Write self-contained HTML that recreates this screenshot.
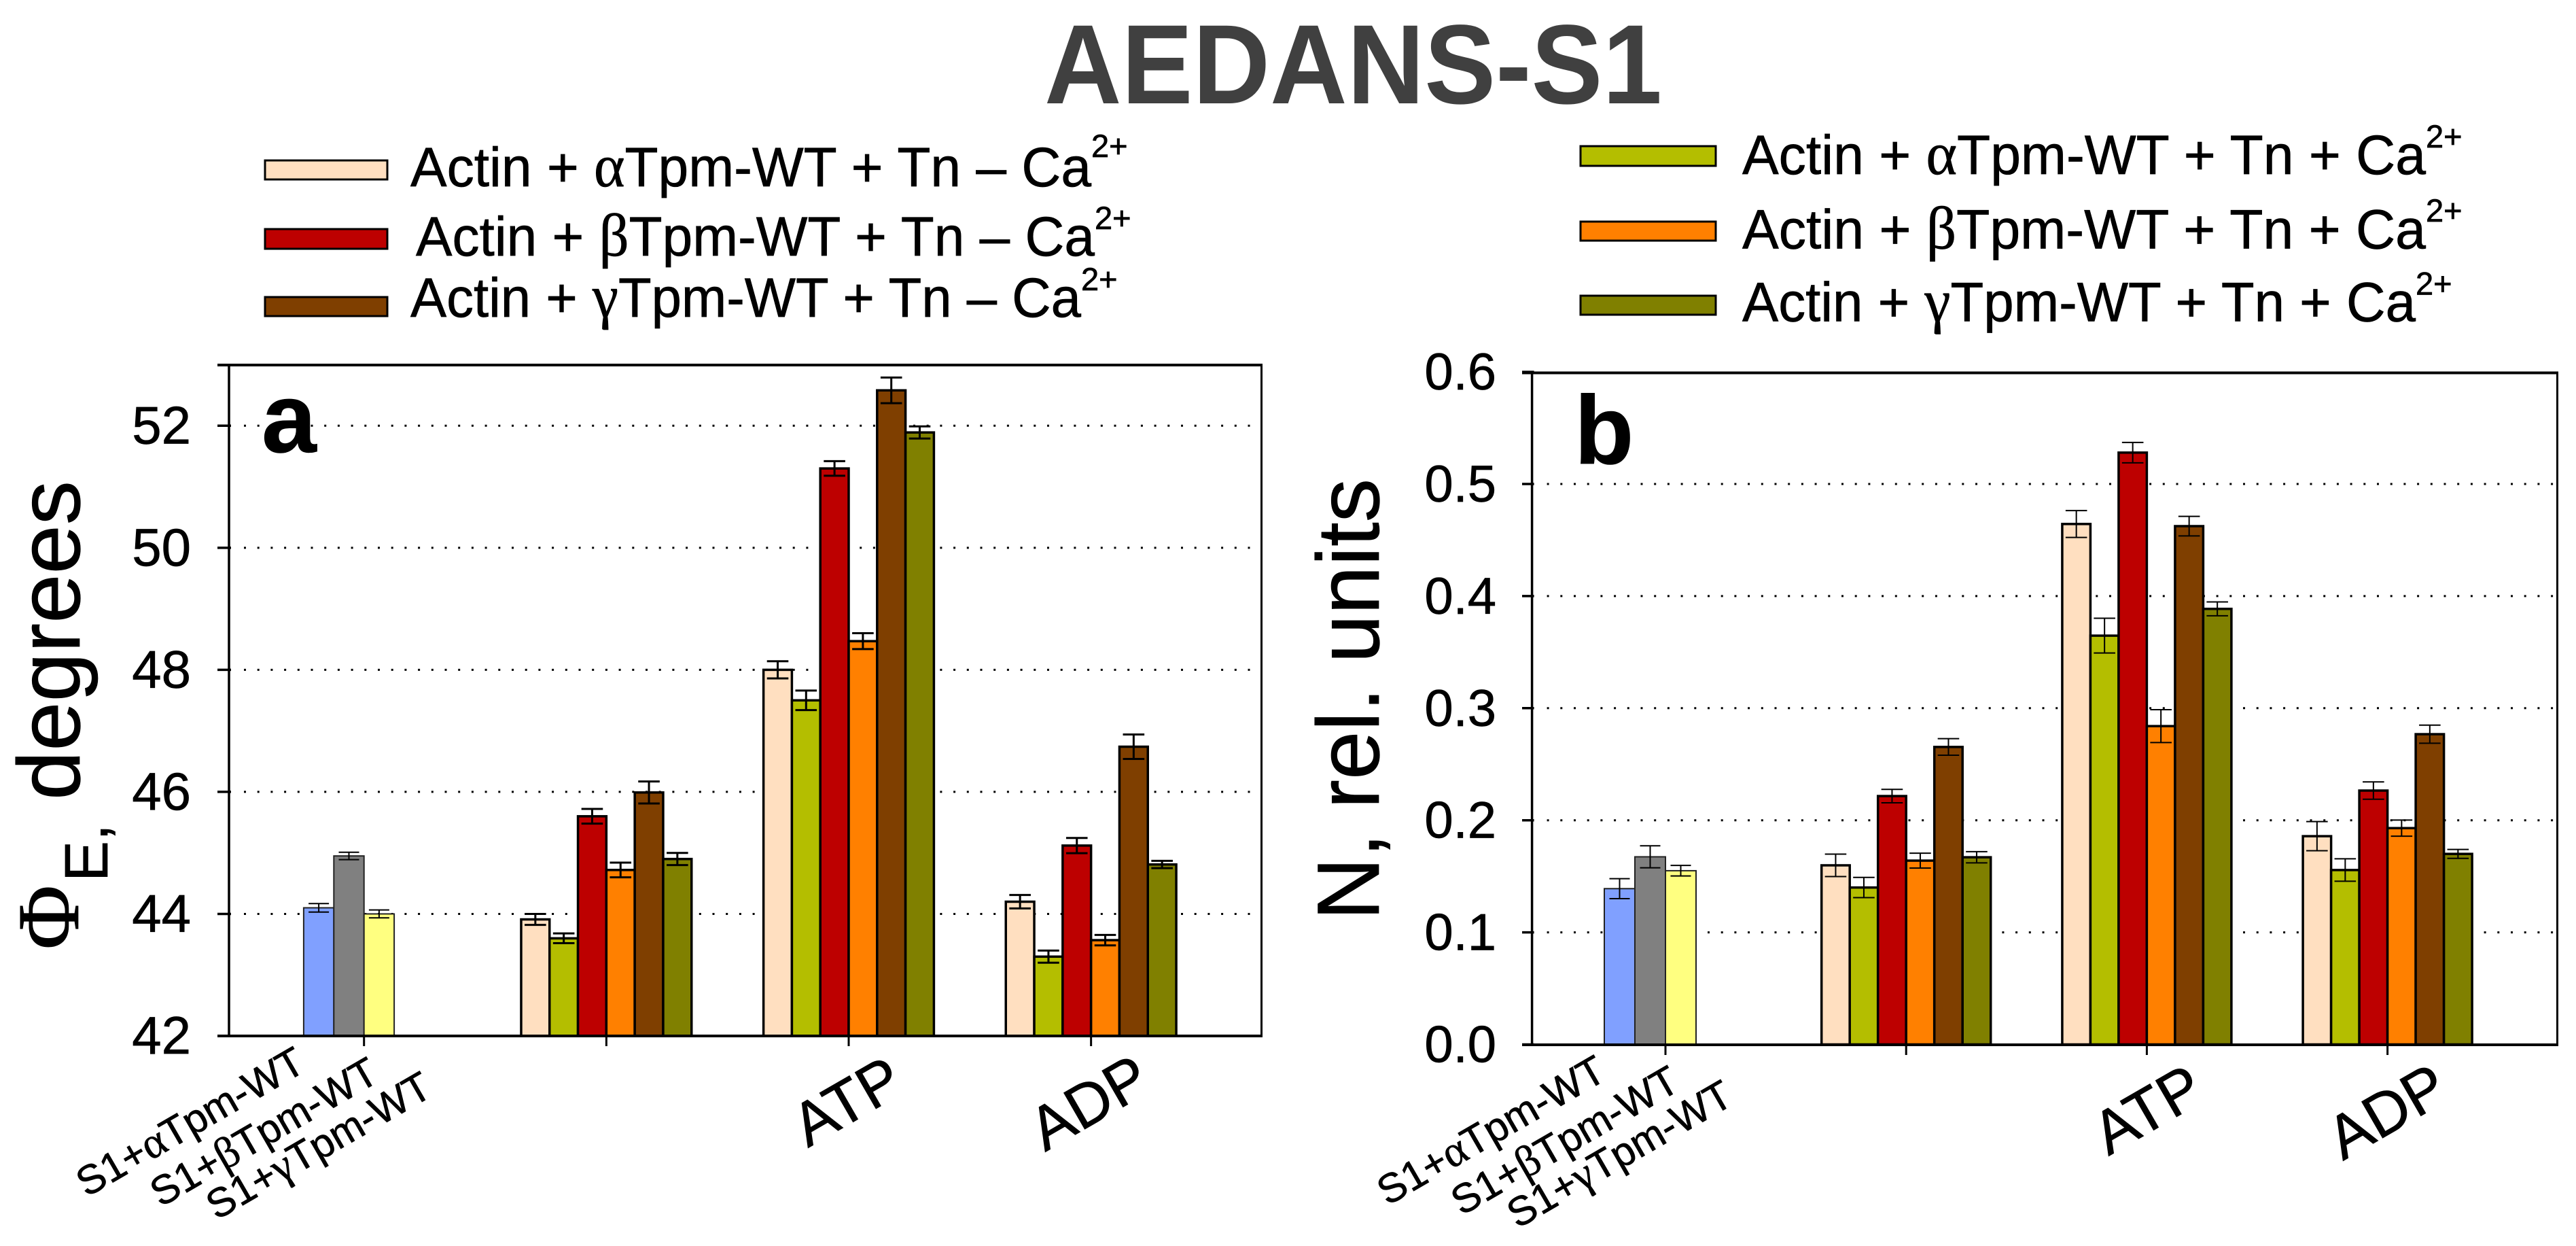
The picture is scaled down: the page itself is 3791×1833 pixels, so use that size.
<!DOCTYPE html>
<html lang="en">
<head>
<meta charset="utf-8">
<title>AEDANS-S1</title>
<style>
html,body{margin:0;padding:0;background:#fff;}
svg{display:block;}
text{font-family:"Liberation Sans",sans-serif;fill:#000;stroke:#000;stroke-width:0.7px;}
.gk{font-family:"Liberation Serif",serif;font-size:1.08em;}
.lg{font-size:82px;}
.sp{font-size:47px;}
.tl{font-size:60px;}
.cat{font-size:90px;}
</style>
</head>
<body>
<svg id="fig" xmlns="http://www.w3.org/2000/svg" width="3791" height="1833" viewBox="0 0 3791 1833">
  <rect x="0" y="0" width="3791" height="1833" fill="#fff"/>
  <text x="1537" y="152" font-size="166" font-weight="bold" style="fill:#404040;stroke:none" textLength="909" lengthAdjust="spacingAndGlyphs">AEDANS-S1</text>

  <g>
    <rect x="390" y="236" width="180" height="28" fill="#FFDFC0" stroke="#000" stroke-width="3"/>
    <text class="lg" x="604" y="274" textLength="1002" lengthAdjust="spacingAndGlyphs">Actin + <tspan class="gk">α</tspan>Tpm-WT + Tn – Ca</text>
    <text class="sp" x="1606" y="231">2+</text>
    <rect x="390" y="337" width="180" height="29" fill="#BD0000" stroke="#000" stroke-width="3"/>
    <text class="lg" x="612" y="376" textLength="999" lengthAdjust="spacingAndGlyphs">Actin + <tspan class="gk">β</tspan>Tpm-WT + Tn – Ca</text>
    <text class="sp" x="1611" y="337">2+</text>
    <rect x="390" y="437" width="180" height="28" fill="#7F3F00" stroke="#000" stroke-width="3"/>
    <text class="lg" x="604" y="466" textLength="987" lengthAdjust="spacingAndGlyphs">Actin + <tspan class="gk">γ</tspan>Tpm-WT + Tn – Ca</text>
    <text class="sp" x="1591" y="427">2+</text>
  </g>

  <g>
    <rect x="2326" y="215" width="199" height="29" fill="#B4BE00" stroke="#000" stroke-width="3"/>
    <text class="lg" x="2564" y="256" textLength="1006" lengthAdjust="spacingAndGlyphs">Actin + <tspan class="gk">α</tspan>Tpm-WT + Tn + Ca</text>
    <text class="sp" x="3570" y="217">2+</text>
    <rect x="2326" y="326" width="199" height="28" fill="#FF8000" stroke="#000" stroke-width="3"/>
    <text class="lg" x="2564" y="365.5" textLength="1006" lengthAdjust="spacingAndGlyphs">Actin + <tspan class="gk">β</tspan>Tpm-WT + Tn + Ca</text>
    <text class="sp" x="3570" y="326">2+</text>
    <rect x="2326" y="435" width="199" height="28" fill="#808000" stroke="#000" stroke-width="3"/>
    <text class="lg" x="2564" y="472.6" textLength="991" lengthAdjust="spacingAndGlyphs">Actin + <tspan class="gk">γ</tspan>Tpm-WT + Tn + Ca</text>
    <text class="sp" x="3555" y="433.6">2+</text>
  </g>

  <g id="panelA"></g>
  <g id="panelB"></g>

  <g>
    <text x="385" y="665" font-size="145" font-weight="bold">a</text>
    <text transform="translate(115,1397) rotate(-90)" font-size="130" style="font-family:'Liberation Serif',serif">Φ</text>
    <text transform="translate(158,1297) rotate(-90)" font-size="90">E,</text>
    <text transform="translate(117,1177) rotate(-90)" font-size="130">degrees</text>
    <text class="tl" text-anchor="middle" transform="translate(290,1668) rotate(-30)">S1+<tspan class="gk">α</tspan>Tpm-WT</text>
    <text class="tl" text-anchor="middle" transform="translate(398.5,1683) rotate(-30)">S1+<tspan class="gk">β</tspan>Tpm-WT</text>
    <text class="tl" text-anchor="middle" transform="translate(479,1703) rotate(-30)">S1+<tspan class="gk">γ</tspan>Tpm-WT</text>
    <text class="cat" transform="translate(1189,1689) rotate(-30)">ATP</text>
    <text class="cat" transform="translate(1538,1695) rotate(-30)">ADP</text>
  </g>

  <g>
    <text x="2317" y="682" font-size="143" font-weight="bold">b</text>
    <text transform="translate(2029,1354) rotate(-90)" font-size="130" textLength="650" lengthAdjust="spacingAndGlyphs">N, rel. units</text>
    <text class="tl" text-anchor="middle" transform="translate(2204.5,1680.5) rotate(-30)">S1+<tspan class="gk">α</tspan>Tpm-WT</text>
    <text class="tl" text-anchor="middle" transform="translate(2313,1695.5) rotate(-30)">S1+<tspan class="gk">β</tspan>Tpm-WT</text>
    <text class="tl" text-anchor="middle" transform="translate(2393.5,1715.5) rotate(-30)">S1+<tspan class="gk">γ</tspan>Tpm-WT</text>
    <text class="cat" transform="translate(3103,1701) rotate(-30)">ATP</text>
    <text class="cat" transform="translate(3448,1708) rotate(-30)">ADP</text>
  </g>
</svg>

<script>
// Categories and series order
const categories = ['S1', 'Actin', 'ATP', 'ADP'];
const s1Series = ['s1-alpha', 's1-beta', 's1-gamma'];
const actinSeries = ['alpha-no-ca', 'alpha-ca', 'beta-no-ca', 'beta-ca', 'gamma-no-ca', 'gamma-ca'];

// Panel a: Phi_E, degrees
const phiTicks = ['42', '44', '46', '48', '50', '52'];
const phiS1 = [44.1, 44.95, 44.0];
const phiS1Err = [0.07, 0.06, 0.065];
const phiActin = [43.91, 43.6, 45.6, 44.72, 45.99, 44.9];
const phiActinErr = [0.09, 0.08, 0.12, 0.12, 0.18, 0.1];
const phiATP = [48.0, 47.5, 51.3, 48.47, 52.58, 51.89];
const phiATPErr = [0.14, 0.16, 0.12, 0.13, 0.21, 0.1];
const phiADP = [44.2, 43.3, 45.12, 43.57, 46.74, 44.81];
const phiADPErr = [0.11, 0.1, 0.125, 0.085, 0.2, 0.06];

// Panel b: N, rel. units
const nTicks = ['0.0', '0.1', '0.2', '0.3', '0.4', '0.5', '0.6'];
const nS1 = [0.139, 0.1674, 0.155];
const nS1Err = [0.0089, 0.0098, 0.0047];
const nActin = [0.1598, 0.14, 0.2216, 0.164, 0.2654, 0.167];
const nActinErr = [0.01, 0.009, 0.006, 0.0066, 0.0074, 0.005];
const nATP = [0.4643, 0.3647, 0.528, 0.284, 0.4624, 0.3886];
const nATPErr = [0.012, 0.0155, 0.0091, 0.0147, 0.0087, 0.0062];
const nADP = [0.1858, 0.1556, 0.2265, 0.193, 0.2768, 0.17];
const nADPErr = [0.013, 0.01, 0.0077, 0.0072, 0.0081, 0.004];

const SVGNS = 'http://www.w3.org/2000/svg';
const fillBySeries = {
  's1-alpha': '#80A0FF', 's1-beta': '#808080', 's1-gamma': '#FFFF80',
  'alpha-no-ca': '#FFDFC0', 'alpha-ca': '#B4BE00', 'beta-no-ca': '#BD0000',
  'beta-ca': '#FF8000', 'gamma-no-ca': '#7F3F00', 'gamma-ca': '#808000'
};

function mk(parent, tag, attrs) {
  const el = document.createElementNS(SVGNS, tag);
  for (const k in attrs) el.setAttribute(k, attrs[k]);
  parent.appendChild(el);
  return el;
}

function drawPanel(root, id, cfg) {
  const x = cfg.x, y = cfg.y, L = cfg.left, R = cfg.right, T = cfg.top, B = cfg.bottom, tickL = cfg.tickLeft;
  const yZero = y(Number(cfg.ticks[0]));

  // gridlines
  cfg.ticks.forEach(function (t, i) {
    if (i === 0 || Number(t) === cfg.topTickNoGrid) return;
    const g = mk(root, 'line', {x1: L + 22, x2: R - 2, y1: y(Number(t)), y2: y(Number(t)), stroke: '#000', 'stroke-width': 3, 'stroke-dasharray': '3 16.7'});
    
    
  });

  // bars and error bars
  cfg.groups.forEach(function (grp, gi) {
    const isS1 = gi === 0;
    const names = isS1 ? s1Series : actinSeries;
    const w = isS1 ? cfg.wS1 : cfg.w;
    const offset = isS1 ? 2 : 3;
    grp.values.forEach(function (v, j) {
      const bx = x(gi) + (j - offset) * w;
      const b = mk(root, 'rect', {x: bx, y: y(v), width: w, height: yZero - y(v), fill: fillBySeries[names[j]], stroke: isS1 ? '#222' : '#000', 'stroke-width': isS1 ? 2 : 3.5});
      
      
    });
    grp.values.forEach(function (v, j) {
      const cx = x(gi) + (j - offset + 0.5) * w;
      const e = grp.errs[j];
      const hi = y(v + e), lo = y(v - e), hw = isS1 ? 15 : 15.8;
      const d = 'M' + cx + ' ' + hi + 'V' + lo + 'M' + (cx - hw) + ' ' + hi + 'H' + (cx + hw) + 'M' + (cx - hw) + ' ' + lo + 'H' + (cx + hw);
      const p = mk(root, 'path', {d: d, fill: 'none', stroke: '#000', 'stroke-width': isS1 ? 2 : cfg.errW});
      
      
    });
  });

  // frame
  const right = mk(root, 'line', {x1: R, x2: R, y1: T, y2: B, stroke: '#000', 'stroke-width': 3});
  
  
  const top = mk(root, 'line', {x1: tickL, x2: R + 1.5, y1: T, y2: T, stroke: '#000', 'stroke-width': 4});
  
  
  const yAxis = mk(root, 'line', {x1: L, x2: L, y1: T, y2: B, stroke: '#000', 'stroke-width': 3.5});
  
  
  const xAxis = mk(root, 'line', {x1: tickL, x2: R + 1.5, y1: B, y2: B, stroke: '#000', 'stroke-width': 4});
  
  

  // y ticks and labels
  cfg.ticks.forEach(function (t) {
    const ty = y(Number(t));
    const tk = mk(root, 'line', {x1: tickL, x2: L + 3, y1: ty, y2: ty, stroke: '#000', 'stroke-width': 3.5});
    
    
    const lb = mk(root, 'text', {x: cfg.labelX, y: ty + 26, 'font-size': cfg.labelSize, 'text-anchor': 'end'});
    lb.textContent = t;
    
    
  });

  // x ticks
  categories.forEach(function (c, i) {
    const tk = mk(root, 'line', {x1: x(i), x2: x(i), y1: B, y2: B + 15, stroke: '#000', 'stroke-width': 3});
    
    
  });
}

function xA(i) { return 535.7 + i * 356.65; }
function yA(v) { return 1524 - (v - 42) * 89.77; }
function xB(i) { return 2451 + i * 354.2; }
function yB(v) { return 1536.5 - v * 1649; }

drawPanel(document.getElementById('panelA'), 'panel-a', {
  x: xA, y: yA, left: 337, right: 1856.5, top: 537, bottom: 1524, tickLeft: 320,
  w: 41.8, wS1: 44.4, errW: 3, ticks: phiTicks, labelX: 281, labelSize: 78,
  groups: [
    {values: phiS1, errs: phiS1Err},
    {values: phiActin, errs: phiActinErr},
    {values: phiATP, errs: phiATPErr},
    {values: phiADP, errs: phiADPErr}
  ]
});

drawPanel(document.getElementById('panelB'), 'panel-b', {
  x: xB, y: yB, left: 2254.6, right: 3763.5, top: 548.5, bottom: 1537, tickLeft: 2240, topTickNoGrid: 0.6,
  w: 41.5, wS1: 45, errW: 2, ticks: nTicks, labelX: 2202, labelSize: 76,
  groups: [
    {values: nS1, errs: nS1Err},
    {values: nActin, errs: nActinErr},
    {values: nATP, errs: nATPErr},
    {values: nADP, errs: nADPErr}
  ]
});
</script>
</body>
</html>
